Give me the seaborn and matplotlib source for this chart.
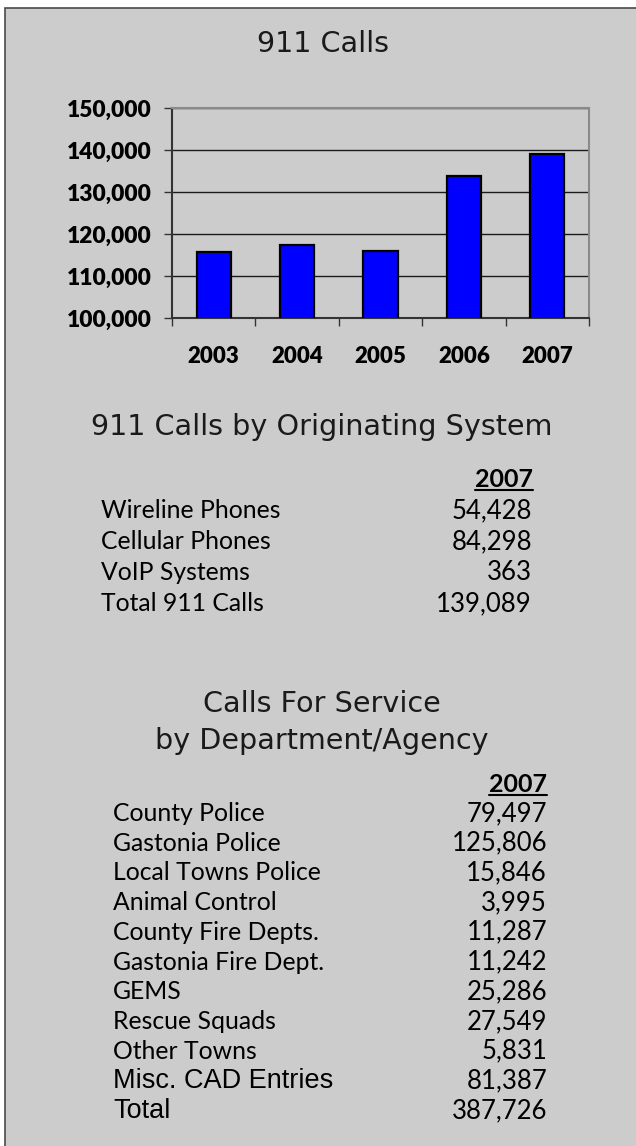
import matplotlib
matplotlib.use("Agg")
import matplotlib.pyplot as plt
import seaborn as sns
import pandas as pd
import numpy as np
from matplotlib.patches import Rectangle
from matplotlib.lines import Line2D
from matplotlib.ticker import FixedLocator, FuncFormatter

# data
years = ["2003", "2004", "2005", "2006", "2007"]
calls_911 = [115700, 117450, 115900, 133800, 139089]

system_names = ["Wireline Phones", "Cellular Phones", "VoIP Systems", "Total 911 Calls"]
system_calls = [54428, 84298, 363, 139089]

dept_names = ["County Police", "Gastonia Police", "Local Towns Police", "Animal Control",
              "County Fire Depts.", "Gastonia Fire Dept.", "GEMS", "Rescue Squads",
              "Other Towns", "Misc. CAD Entries", "Total"]
dept_calls = [79497, 125806, 15846, 3995, 11287, 11242, 25286, 27549, 5831, 81387, 387726]
arial_rows = {"Misc. CAD Entries", "Total"}

W, H = 636, 1146
GRAY = "#CCCCCC"

sns.set_theme(style="white")
plt.rcParams["font.family"] = ["Lato", "DejaVu Sans"]

fig = plt.figure(figsize=(W / 100, H / 100), dpi=100, facecolor="white")


def fx(x):
    return x / W


def fy(y):
    return 1 - y / H


# grey panel with border on the left and top
fig.add_artist(Rectangle((fx(5), -0.05), 1.1, fy(8) + 0.05, transform=fig.transFigure,
                         facecolor=GRAY, edgecolor="#4a4a4a", linewidth=1.2, zorder=-5))

# bar chart
ax = fig.add_axes([fx(172), fy(318), fx(589) - fx(172), (318 - 108) / H])
ax.set_facecolor(GRAY)
df = pd.DataFrame({"year": years, "calls": calls_911})
sns.barplot(data=df, x="year", y="calls", color="#0000FF", saturation=1, width=0.41,
            edgecolor="black", linewidth=1.6, ax=ax, zorder=3)
ax.set_ylim(100000, 150000)
ax.set_yticks(range(100000, 150001, 10000))
ax.yaxis.set_major_formatter(FuncFormatter(lambda v, p: f"{int(v):,}"))
ax.yaxis.grid(True, color="#1a1a1a", linewidth=1)
ax.set_axisbelow(True)
ax.set_xlabel("")
ax.set_ylabel("")
for s in ["top", "right"]:
    ax.spines[s].set_color("#8a8a8a")
    ax.spines[s].set_linewidth(1.5)
for s in ["left", "bottom"]:
    ax.spines[s].set_color("#333333")
    ax.spines[s].set_linewidth(1.5)
ax.tick_params(axis="y", length=5.8, width=1, color="#333333", pad=8.6,
               labelsize=16.4, direction="out", left=True)
ax.xaxis.set_minor_locator(FixedLocator(np.arange(-0.5, 5, 1)))
ax.tick_params(axis="x", which="major", length=0, pad=20, labelsize=16)
ax.tick_params(axis="x", which="minor", length=5.8, width=1, color="#333333",
               direction="out", bottom=True)
for lab in ax.get_xticklabels() + ax.get_yticklabels():
    lab.set_fontweight("heavy")
    lab.set_color("black")

# titles
title_kw = dict(ha="center", va="baseline", fontsize=20.6, family="DejaVu Sans", color="#1a1a1a")
fig.text(fx(323), fy(52), "911 Calls", **title_kw)
fig.text(fx(322), fy(435), "911 Calls by Originating System", **title_kw)
fig.text(fx(322), fy(712), "Calls For Service", **title_kw)
fig.text(fx(322), fy(749), "by Department/Agency", **title_kw)

# table headers
h1 = fig.text(fx(533), fy(487), "2007", ha="right", va="baseline", fontsize=18,
              fontweight="bold", color="black")
h2 = fig.text(fx(547), fy(792), "2007", ha="right", va="baseline", fontsize=18,
              fontweight="bold", color="black")

# 911 calls by originating system
for i, (name, val) in enumerate(zip(system_names, system_calls)):
    y = 518 + 31 * i
    fig.text(fx(101), fy(y), name, ha="left", va="baseline", fontsize=17.8, color="black")
    fig.text(fx(532), fy(y), f"{val:,}", ha="right", va="baseline", fontsize=18.5, color="black")

# calls for service by department
for i, (name, val) in enumerate(zip(dept_names, dept_calls)):
    y = 821 + 29.7 * i
    if name in arial_rows:
        fig.text(fx(113), fy(y), name, ha="left", va="baseline", fontsize=19.5,
                 family="Liberation Sans", color="black")
    else:
        fig.text(fx(113), fy(y), name, ha="left", va="baseline", fontsize=17.8, color="black")
    fig.text(fx(547), fy(y), f"{val:,}", ha="right", va="baseline", fontsize=18.5, color="black")

# underline the header years
fig.canvas.draw()
for h, ybase in [(h1, 489.5), (h2, 794.5)]:
    bb = h.get_window_extent()
    fig.add_artist(Line2D([bb.x0 / W, bb.x1 / W], [fy(ybase), fy(ybase)],
                          transform=fig.transFigure, color="black", linewidth=1.5))

fig.savefig("out.png", dpi=100, facecolor="white")
